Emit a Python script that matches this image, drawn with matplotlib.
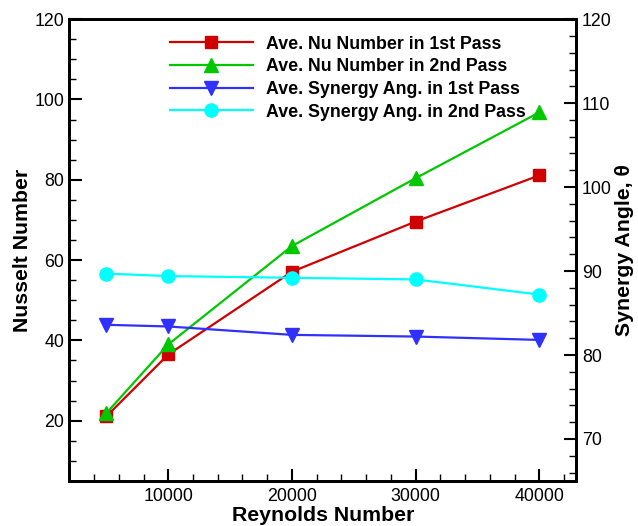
import matplotlib
matplotlib.use('Agg')
import matplotlib.pyplot as plt
from matplotlib.ticker import MultipleLocator

plt.rcParams['font.family'] = ['Liberation Sans', 'DejaVu Sans']

# Reynolds numbers
re = [5000, 10000, 20000, 30000, 40000]

# average Nusselt numbers (left axis)
nu_1st = [21.1, 36.5, 57.1, 69.6, 81.1]
nu_2nd = [21.9, 39.0, 63.5, 80.4, 96.8]

# average synergy angles (right axis)
syn_1st = [83.6, 83.4, 82.4, 82.2, 81.8]
syn_2nd = [89.7, 89.4, 89.2, 89.0, 87.2]

labels = ['Ave. Nu Number in 1st Pass', 'Ave. Nu Number in 2nd Pass',
          'Ave. Synergy Ang. in 1st Pass', 'Ave. Synergy Ang. in 2nd Pass']

fig = plt.figure(figsize=(6.38, 5.26), dpi=100)
ax = fig.add_axes([0.1086, 0.0856, 0.795, 0.878])
ax2 = ax.twinx()

l1, = ax.plot(re, nu_1st, color='#d00000', marker='s', ms=8, lw=1.6, label=labels[0])
l2, = ax.plot(re, nu_2nd, color='#00c800', marker='^', ms=9.5, lw=1.6, label=labels[1])
l3, = ax2.plot(re, syn_1st, color='#3030ff', marker='v', ms=9.5, lw=1.6, label=labels[2])
l4, = ax2.plot(re, syn_2nd, color='#00ffff', marker='o', ms=9.5, lw=1.6, label=labels[3])

ax.set_xlim(2000, 43000)
ax.set_ylim(5, 120)
ax2.set_ylim(65, 120)

ax.xaxis.set_major_locator(MultipleLocator(10000))
ax.xaxis.set_minor_locator(MultipleLocator(2000))
ax.yaxis.set_major_locator(MultipleLocator(20))
ax.yaxis.set_minor_locator(MultipleLocator(5))
ax2.yaxis.set_major_locator(MultipleLocator(10))
ax2.yaxis.set_minor_locator(MultipleLocator(2))

ax.tick_params(axis='both', which='major', direction='in', length=9, width=1.5,
               labelsize=12.8, top=False)
ax.tick_params(axis='both', which='minor', direction='in', length=5, width=1.0, top=False)
ax2.tick_params(which='major', direction='in', length=9, width=1.5, labelsize=12.8, pad=4)
ax2.tick_params(which='minor', direction='in', length=5, width=1.0)
ax.tick_params(axis='x', pad=5)

for a in (ax, ax2):
    for s in a.spines.values():
        s.set_linewidth(2)

ax.set_xlabel('Reynolds Number', fontsize=15.3, fontweight='bold', labelpad=1)
ax.set_ylabel('Nusselt Number', fontsize=15.3, fontweight='bold', labelpad=2)
ax2.set_ylabel('Synergy Angle, θ', fontsize=15.3, fontweight='bold', labelpad=2.5)

ax2.legend(handles=[l1, l2, l3, l4], loc='upper left', bbox_to_anchor=(0.2665, 0.9325),
           bbox_transform=fig.transFigure, frameon=False, borderpad=0, borderaxespad=0,
           prop={'weight': 'bold', 'size': 12.8}, handlelength=4.66, handletextpad=0.73,
           labelspacing=0.32, numpoints=1)

fig.savefig('out.png', dpi=100)
